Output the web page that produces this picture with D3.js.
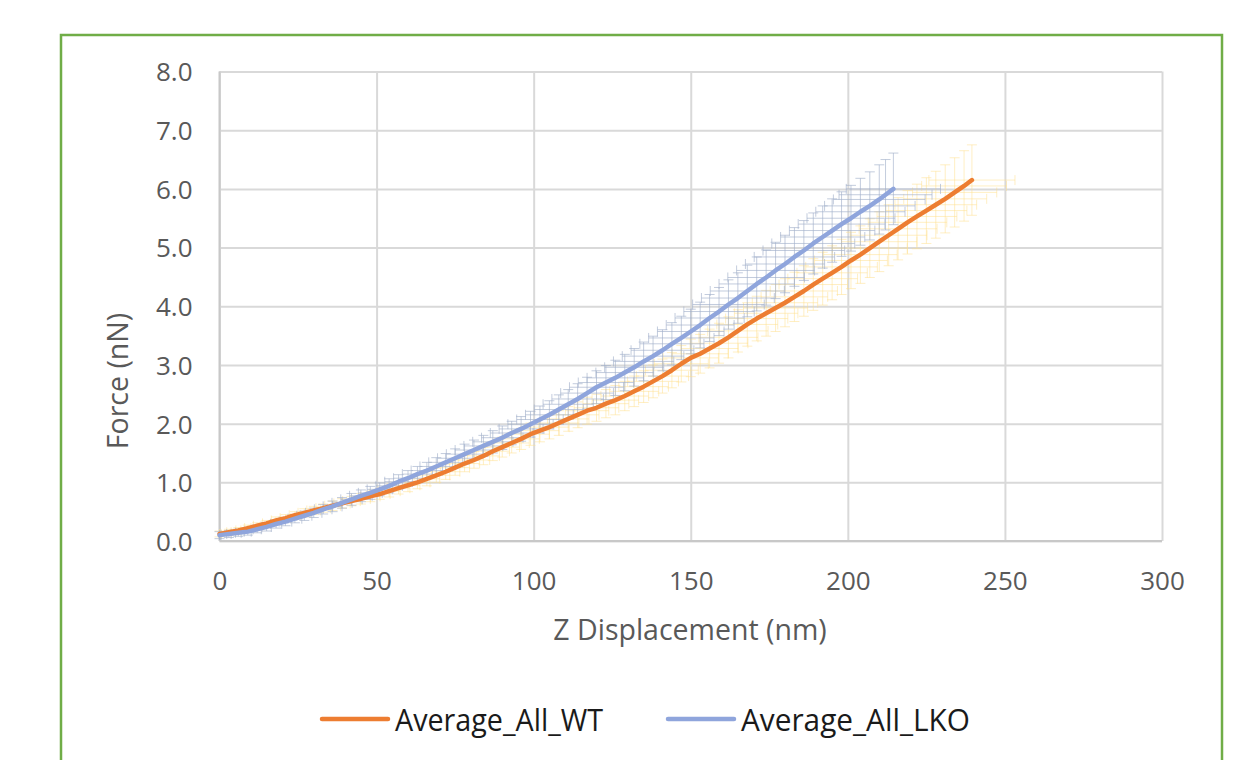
<!DOCTYPE html>
<html>
<head>
<meta charset="utf-8">
<script src="https://cdn.jsdelivr.net/npm/d3@7"></script>
<style>
  html, body { margin: 0; padding: 0; background: #ffffff; }
  svg { display: block; }
</style>
</head>
<body>
<svg id="chart" width="1254" height="760"></svg>
<script>
// ---------- data ----------
const xTicks = [0, 50, 100, 150, 200, 250, 300];
const yTicks = [0, 1, 2, 3, 4, 5, 6, 7, 8];
const seriesNames = ["Average_All_WT", "Average_All_LKO"];

const wtX = [0,3,6,9,12,15,18,21,24,27,30,33,36,39,42,45,48,51,54,57,60,63,66,69,72,75,78,81,84,87,90,93,96,99,102,105,108,111,114,117,120,123,126,129,132,135,138,141,144,147,150,153,156,159,162,165,168,171,174,177,180,183,186,189,192,195,198,201,204,207,210,213,216,219,222,225,228,231,234,237,239.5];
const wtY = [0.12,0.15,0.18,0.22,0.26,0.30,0.35,0.39,0.44,0.48,0.52,0.56,0.60,0.64,0.68,0.72,0.76,0.80,0.85,0.90,0.95,1.00,1.06,1.12,1.18,1.25,1.32,1.38,1.45,1.53,1.60,1.67,1.74,1.82,1.88,1.94,2.01,2.08,2.15,2.22,2.27,2.34,2.40,2.47,2.55,2.63,2.72,2.81,2.91,3.02,3.12,3.19,3.28,3.37,3.47,3.58,3.69,3.79,3.88,3.97,4.06,4.16,4.26,4.37,4.47,4.57,4.67,4.78,4.88,4.99,5.10,5.21,5.32,5.43,5.53,5.63,5.73,5.83,5.94,6.05,6.15];
const wtYErr = [0.05,0.05,0.05,0.05,0.05,0.05,0.06,0.06,0.06,0.07,0.07,0.07,0.08,0.08,0.08,0.09,0.09,0.09,0.10,0.10,0.11,0.11,0.12,0.12,0.13,0.13,0.14,0.14,0.15,0.16,0.17,0.17,0.18,0.19,0.19,0.20,0.21,0.21,0.22,0.23,0.23,0.24,0.25,0.25,0.26,0.27,0.28,0.29,0.30,0.31,0.32,0.33,0.33,0.34,0.35,0.36,0.37,0.38,0.39,0.40,0.41,0.42,0.43,0.44,0.45,0.46,0.47,0.48,0.49,0.50,0.51,0.52,0.53,0.54,0.55,0.56,0.57,0.58,0.59,0.60,0.60];
const wtXErr = [0.5,0.7,0.8,1.0,1.2,1.3,1.5,1.7,1.8,2.0,2.2,2.3,2.5,2.6,2.8,3.0,3.1,3.3,3.5,3.6,3.8,4.0,4.1,4.3,4.5,4.6,4.8,5.0,5.1,5.3,5.5,5.6,5.8,6.0,6.1,6.3,6.4,6.6,6.8,6.9,7.1,7.3,7.4,7.6,7.8,7.9,8.1,8.3,8.4,8.6,8.8,8.9,9.1,9.2,9.4,9.6,9.7,9.9,10.1,10.2,10.4,10.6,10.7,10.9,11.1,11.2,11.4,11.6,11.7,11.9,12.0,12.2,12.4,12.5,12.7,12.9,13.0,13.2,13.4,13.5,13.7];

const lkoX = [0,3,6,9,12,15,18,21,24,27,30,33,36,39,42,45,48,51,54,57,60,63,66,69,72,75,78,81,84,87,90,93,96,99,102,105,108,111,114,117,120,123,126,129,132,135,138,141,144,147,150,153,156,159,162,165,168,171,174,177,180,183,186,189,192,195,198,201,204,207,210,212,214.5];
const lkoY = [0.10,0.12,0.14,0.16,0.20,0.24,0.29,0.33,0.38,0.43,0.48,0.54,0.59,0.65,0.71,0.77,0.82,0.88,0.94,1.01,1.07,1.14,1.20,1.27,1.34,1.41,1.48,1.55,1.62,1.69,1.76,1.84,1.91,1.99,2.07,2.15,2.24,2.33,2.42,2.52,2.62,2.70,2.78,2.87,2.96,3.06,3.15,3.25,3.36,3.46,3.57,3.68,3.80,3.91,4.03,4.14,4.26,4.38,4.49,4.61,4.72,4.84,4.95,5.07,5.18,5.29,5.40,5.50,5.61,5.71,5.82,5.90,6.00];
const lkoYErr = [0.06,0.06,0.06,0.06,0.06,0.07,0.07,0.07,0.07,0.08,0.08,0.08,0.09,0.09,0.10,0.10,0.11,0.11,0.12,0.12,0.13,0.13,0.14,0.15,0.15,0.16,0.17,0.17,0.18,0.19,0.20,0.20,0.21,0.22,0.23,0.24,0.25,0.25,0.26,0.27,0.28,0.29,0.30,0.31,0.32,0.33,0.34,0.35,0.36,0.37,0.38,0.39,0.40,0.41,0.42,0.43,0.44,0.46,0.47,0.48,0.49,0.50,0.51,0.52,0.53,0.54,0.55,0.56,0.57,0.58,0.59,0.60,0.61];
const lkoXErr = [0.5,0.7,0.9,1.1,1.3,1.5,1.8,2.0,2.2,2.4,2.6,2.8,3.0,3.2,3.4,3.6,3.8,4.0,4.2,4.4,4.6,4.8,5.0,5.2,5.4,5.6,5.8,6.0,6.2,6.4,6.6,6.8,7.0,7.2,7.4,7.6,7.8,8.0,8.2,8.4,8.6,8.8,9.0,9.2,9.4,9.6,9.8,10.0,10.2,10.4,10.6,10.8,11.0,11.2,11.4,11.6,11.8,12.0,12.2,12.4,12.6,12.8,13.0,13.2,13.4,13.6,13.8,14.0,14.2,14.4,14.6,14.8,15.0];

// ---------- build ----------
function build(xs, ys, xe, ye) {
  const n = Math.min(xs.length, ys.length, xe.length, ye.length);
  return d3.range(n).map(i => ({x: xs[i], y: ys[i], xe: xe[i], ye: ye[i]}));
}
const series = [
  {name: seriesNames[0], color: "#ED7D31", err: "#FFE08A", errOp: 0.5, pts: build(wtX, wtY, wtXErr, wtYErr), lw: 208},
  {name: seriesNames[1], color: "#8FA5DC", err: "#A3B1CB", errOp: 0.65, pts: build(lkoX, lkoY, lkoXErr, lkoYErr), lw: 229}
];

const svg = d3.select("#chart");
const L = 219.5, R = 1162, T = 71.5, B = 541;
const x = d3.scaleLinear().domain([0, 300]).range([L, R]);
const y = d3.scaleLinear().domain([0, 8]).range([B, T]);

// outer green border
svg.append("rect").attr("x", 61).attr("y", 35).attr("width", 1161).attr("height", 800)
  .attr("fill", "#fff").attr("stroke", "#70AD47").attr("stroke-width", 2.5);

// gridlines
const grid = svg.append("g");
grid.append("g").attr("transform", `translate(${L},0)`)
  .call(d3.axisLeft(y).tickValues(yTicks).tickSize(-(R - L)).tickFormat(""))
  .call(g => g.select(".domain").remove())
  .call(g => g.selectAll("line").attr("stroke", "#D9D9D9").attr("stroke-width", 2));
grid.append("g").attr("transform", `translate(0,${B})`)
  .call(d3.axisBottom(x).tickValues(xTicks).tickSize(-(B - T)).tickFormat(""))
  .call(g => g.select(".domain").remove())
  .call(g => g.selectAll("line").attr("stroke", "#D9D9D9").attr("stroke-width", 2));

// axis lines
svg.append("line").attr("x1", x(0)).attr("x2", x(300)).attr("y1", y(0)).attr("y2", y(0))
  .attr("stroke", "#C8C8C8").attr("stroke-width", 2);
svg.append("line").attr("x1", x(0)).attr("x2", x(0)).attr("y1", y(0)).attr("y2", y(8))
  .attr("stroke", "#C8C8C8").attr("stroke-width", 2);

// tick labels
const yAxis = svg.append("g").attr("transform", `translate(${L},0)`)
  .call(d3.axisLeft(y).tickValues(yTicks).tickFormat(d3.format(".1f")).tickSize(0).tickPadding(27));
yAxis.select(".domain").remove();
yAxis.selectAll("text").attr("font-family", "'Open Sans', sans-serif").attr("font-size", 26)
  .attr("fill", "#595959").attr("dy", "0.36em");

const xAxis = svg.append("g").attr("transform", `translate(0,${B})`)
  .call(d3.axisBottom(x).tickValues(xTicks).tickFormat(d3.format("d")).tickSize(0).tickPadding(0));
xAxis.select(".domain").remove();
xAxis.selectAll("text").attr("font-family", "'Open Sans', sans-serif").attr("font-size", 26)
  .attr("fill", "#595959").attr("y", 49).attr("dy", 0);

// axis titles
svg.append("text").attr("x", 690).attr("y", 640).attr("text-anchor", "middle")
  .attr("font-family", "'Open Sans', sans-serif").attr("font-size", 28.5).attr("fill", "#595959")
  .text("Z Displacement (nm)");
svg.append("text").attr("transform", "translate(128,381) rotate(-90)").attr("text-anchor", "middle")
  .attr("font-family", "'Open Sans', sans-serif").attr("font-size", 28.5).attr("fill", "#595959")
  .text("Force (nN)");

// error bars
const cap = 5;
series.forEach(s => {
  const g = svg.append("g").attr("stroke", s.err).attr("stroke-opacity", s.errOp).attr("stroke-width", 1).attr("fill", "none");
  const p = d3.path();
  s.pts.forEach(d => {
    const cx = x(d.x), cy = y(d.y);
    const y1 = y(d.y + d.ye), y2 = y(Math.max(0, d.y - d.ye));
    const x1 = x(Math.max(0, d.x - d.xe)), x2 = x(d.x + d.xe);
    p.moveTo(cx, y1); p.lineTo(cx, y2);
    p.moveTo(cx - cap, y1); p.lineTo(cx + cap, y1);
    p.moveTo(cx - cap, y2); p.lineTo(cx + cap, y2);
    p.moveTo(x1, cy); p.lineTo(x2, cy);
    p.moveTo(x1, cy - cap); p.lineTo(x1, cy + cap);
    p.moveTo(x2, cy - cap); p.lineTo(x2, cy + cap);
  });
  g.append("path").attr("d", p.toString());
});

// lines
const line = d3.line().x(d => x(d.x)).y(d => y(d.y));
series.forEach(s => {
  svg.append("path").datum(s.pts).attr("d", line).attr("fill", "none")
    .attr("stroke", s.color).attr("stroke-width", 4.5).attr("stroke-linejoin", "round").attr("stroke-linecap", "round");
});

// legend
const legendItems = [{x0: 322, tx: 395}, {x0: 668, tx: 741}];
series.forEach((s, i) => {
  const it = legendItems[i];
  svg.append("line").attr("x1", it.x0).attr("x2", it.x0 + 66).attr("y1", 719).attr("y2", 719)
    .attr("stroke", s.color).attr("stroke-width", 4.5).attr("stroke-linecap", "round");
  svg.append("text").attr("x", it.tx).attr("y", 731)
    .attr("font-family", "'Open Sans', sans-serif").attr("font-size", 31)
    .attr("textLength", s.lw).attr("lengthAdjust", "spacingAndGlyphs")
    .attr("fill", "#1a1a1a").text(s.name);
});
</script>
</body>
</html>
